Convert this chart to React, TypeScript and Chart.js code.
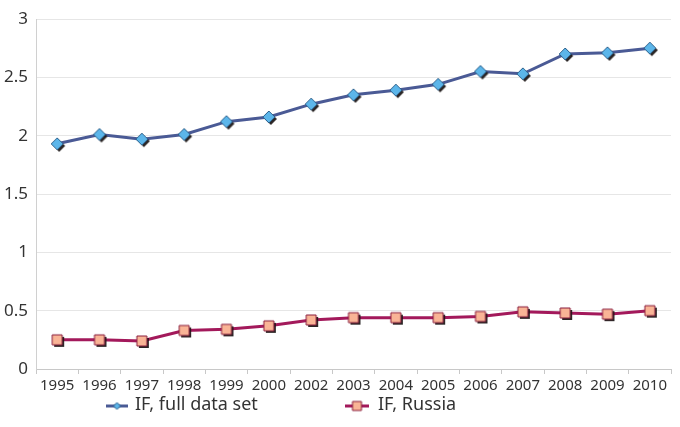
import React, { useEffect, useRef } from "react";
import { Chart, registerables } from "chart.js";

Chart.register(...registerables);

const years = ["1995", "1996", "1997", "1998", "1999", "2000", "2002", "2003", "2004", "2005", "2006", "2007", "2008", "2009", "2010"];
const fullDataSet = [1.93, 2.01, 1.97, 2.01, 2.12, 2.16, 2.27, 2.35, 2.39, 2.44, 2.55, 2.53, 2.7, 2.71, 2.75];
const russia = [0.25, 0.25, 0.24, 0.33, 0.34, 0.37, 0.42, 0.44, 0.44, 0.44, 0.45, 0.49, 0.48, 0.47, 0.5];
const seriesNames = ["IF, full data set", "IF, Russia"];

const FONT = "'Noto Sans', 'Open Sans', sans-serif";
const BLUE_LINE = "#4a5a95";
const BLUE_FILL = "#5cb6ea";
const BLUE_EDGE = "#2b5f8a";
const RED_LINE = "#a3195b";
const RED_FILL = "#f9b496";
const RED_EDGE = "#8a1d3c";

function makeMarker(kind: "diamond" | "square", fill: string, stroke: string, half: number, shadow: number) {
  const size = Math.ceil(2 * (half + shadow + 2));
  const c = document.createElement("canvas");
  c.width = size;
  c.height = size;
  const ctx = c.getContext("2d")!;
  const cx = size / 2;
  const cy = size / 2;
  const path = (ox: number, oy: number) => {
    ctx.beginPath();
    if (kind === "diamond") {
      ctx.moveTo(cx + ox, cy - half + oy);
      ctx.lineTo(cx + half + ox, cy + oy);
      ctx.lineTo(cx + ox, cy + half + oy);
      ctx.lineTo(cx - half + ox, cy + oy);
      ctx.closePath();
    } else {
      ctx.rect(cx - half + ox, cy - half + oy, 2 * half, 2 * half);
    }
  };
  if (shadow > 0) {
    ctx.fillStyle = "rgba(25,20,20,0.92)";
    path(shadow, shadow);
    ctx.fill();
  }
  ctx.fillStyle = fill;
  path(0, 0);
  ctx.fill();
  ctx.strokeStyle = stroke;
  ctx.lineWidth = 1;
  ctx.stroke();
  return c;
}

export default function App() {
  const ref = useRef<HTMLCanvasElement | null>(null);

  useEffect(() => {
    if (!ref.current) return;
    const diamond = makeMarker("diamond", BLUE_FILL, BLUE_EDGE, 6, 2);
    const square = makeMarker("square", RED_FILL, RED_EDGE, 5, 2);
    const diamondSmall = makeMarker("diamond", BLUE_FILL, BLUE_EDGE, 3.5, 0);
    const squareSmall = makeMarker("square", RED_FILL, RED_EDGE, 4.5, 0);

    const legendPlugin = {
      id: "customLegend",
      afterDraw(chart: any) {
        const ctx = chart.ctx as CanvasRenderingContext2D;
        const y = 406;
        const items = [
          { x1: 106, x2: 128, color: BLUE_LINE, marker: diamondSmall, text: seriesNames[0], tx: 135 },
          { x1: 345, x2: 369, color: RED_LINE, marker: squareSmall, text: seriesNames[1], tx: 378 },
        ];
        ctx.save();
        for (const it of items) {
          ctx.strokeStyle = it.color;
          ctx.lineWidth = 3;
          ctx.beginPath();
          ctx.moveTo(it.x1, y);
          ctx.lineTo(it.x2, y);
          ctx.stroke();
          const mx = (it.x1 + it.x2) / 2;
          ctx.drawImage(it.marker, mx - it.marker.width / 2, y - it.marker.height / 2);
          ctx.fillStyle = "#333333";
          ctx.font = `18px ${FONT}`;
          ctx.textBaseline = "middle";
          ctx.textAlign = "left";
          ctx.fillText(it.text, it.tx, y - 1);
        }
        ctx.restore();
      },
    };

    const chart = new Chart(ref.current, {
      type: "line",
      data: {
        labels: years,
        datasets: [
          {
            label: seriesNames[0],
            data: fullDataSet,
            borderColor: BLUE_LINE,
            borderWidth: 3,
            pointStyle: diamond as any,
            pointRadius: 6,
            tension: 0,
          },
          {
            label: seriesNames[1],
            data: russia,
            borderColor: RED_LINE,
            borderWidth: 3,
            pointStyle: square as any,
            pointRadius: 6,
            tension: 0,
          },
        ],
      },
      options: {
        animation: false,
        responsive: false,
        layout: { padding: { top: 19, right: 7, bottom: 29, left: 0 } },
        plugins: {
          legend: { display: false },
          tooltip: { enabled: false },
        },
        scales: {
          x: {
            offset: true,
            grid: {
              offset: true,
              drawOnChartArea: false,
              drawTicks: true,
              tickLength: 5,
              color: "#c8c8c8",
            },
            border: { color: "#c8c8c8" },
            ticks: {
              color: "#333333",
              font: { family: FONT, size: 15 },
              padding: 3,
              maxRotation: 0,
              autoSkip: false,
            },
          },
          y: {
            min: 0,
            max: 3,
            afterFit: (scale: any) => {
              scale.width = 36;
            },
            grid: { color: "#e6e6e6", drawTicks: false },
            border: { color: "#d0d0d0" },
            ticks: {
              stepSize: 0.5,
              color: "#333333",
              font: { family: FONT, size: 17 },
              padding: 8,
              callback: (v: any) => String(v),
            },
          },
        },
      },
      plugins: [legendPlugin],
    });
    return () => chart.destroy();
  }, []);

  return (
    <div style={{ position: "fixed", left: 0, top: 0, width: 680, height: 427, background: "#fff" }}>
      <canvas ref={ref} width={680} height={427} style={{ display: "block", width: 680, height: 427 }} />
    </div>
  );
}
